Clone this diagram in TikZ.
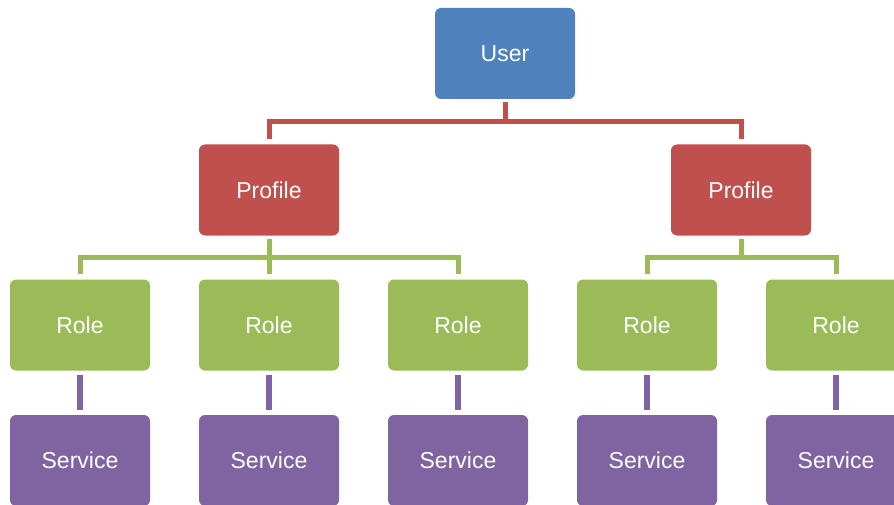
\documentclass[tikz,border=0pt]{standalone}
\usepackage{fontspec}
\setmainfont{Liberation Sans}
\definecolor{userblue}{HTML}{4F81BD}
\definecolor{profred}{HTML}{C0504D}
\definecolor{rolegreen}{HTML}{9BBB59}
\definecolor{servpurple}{HTML}{8064A2}
\begin{document}
\begin{tikzpicture}[x=1pt, y=-1pt,
  box/.style={rounded corners=6pt, minimum width=140pt, minimum height=91pt, inner sep=0pt, text=white, font=\fontsize{23}{27}\selectfont},
  userbox/.style={box, fill=userblue},
  profbox/.style={box, fill=profred},
  rolebox/.style={box, fill=rolegreen},
  servbox/.style={box, fill=servpurple},
  bus/.style={line width=5pt, shorten <=3pt, shorten >=5pt}
]
  \useasboundingbox (0,0) rectangle (894,505);

  \node[userbox] (usr) at (505,53.5) {User};

  \node[profbox] (pl) at (269,190) {Profile};
  \node[profbox] (pr) at (741,190) {Profile};

  \node[rolebox] (r1) at (80,325)  {Role};
  \node[rolebox] (r2) at (269,325) {Role};
  \node[rolebox] (r3) at (458,325) {Role};
  \node[rolebox] (r4) at (647,325) {Role};
  \node[rolebox] (r5) at (836,325) {Role};

  \foreach \i/\x in {1/80, 2/269, 3/458, 4/647, 5/836}
    \node[servbox] (s\i) at (\x,460.5) {Service};

  % user to profiles
  \draw[bus, profred] (usr.south) -- ++(0,22) -| (pl.north);
  \draw[bus, profred] (usr.south) -- ++(0,22) -| (pr.north);

  % profiles to roles
  \foreach \r in {r1, r2, r3}
    \draw[bus, rolegreen] (pl.south) -- ++(0,22) -| (\r.north);
  \foreach \r in {r4, r5}
    \draw[bus, rolegreen] (pr.south) -- ++(0,22) -| (\r.north);

  % roles to services
  \foreach \i in {1,...,5}
    \draw[bus, servpurple, line width=6pt, shorten <=4pt, shorten >=5pt] (r\i.south) -- (s\i.north);
\end{tikzpicture}
\end{document}
